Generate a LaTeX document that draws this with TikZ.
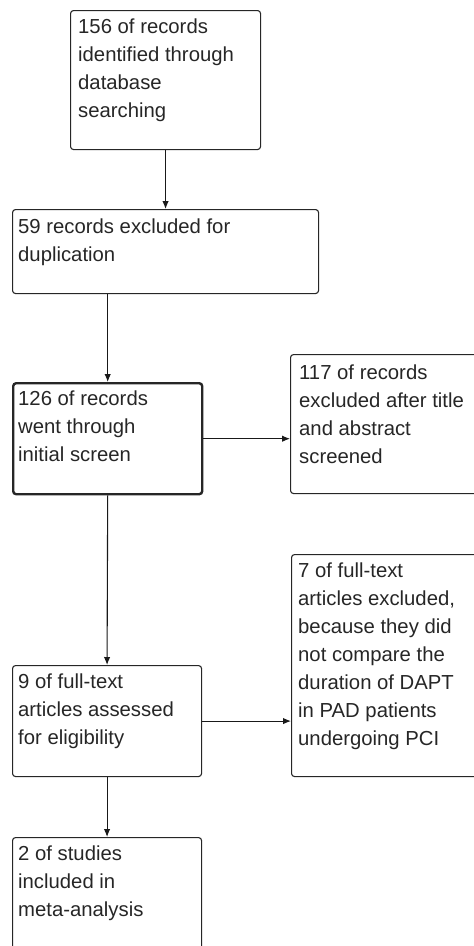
\documentclass[tikz,border=0pt]{standalone}
\usepackage{fontspec}
\setmainfont{Liberation Sans}
\usetikzlibrary{arrows.meta}
\tikzset{
  box/.style={draw=black!85, line width=1.1pt, rounded corners=3pt, inner sep=0pt, anchor=north west},
  thickbox/.style={box, line width=2.4pt},
  txt/.style={anchor=north west, inner sep=0pt, align=left, text=black!85,
    font=\fontsize{20.3pt}{28pt}\selectfont, execute at begin node=\strut},
  arr/.style={draw=black!90, line width=1.1pt, -{Latex[length=8pt,width=6.5pt]}}
}
\begin{document}
\begin{tikzpicture}[x=1pt,y=-1pt]
\clip (0,0) rectangle (474,946);
% boxes
\node[box, minimum width=190pt, minimum height=139pt] (b1) at (70,10) {};
\node[box, minimum width=306pt, minimum height=84pt] (b2) at (12,209) {};
\node[thickbox, minimum width=189pt, minimum height=111pt] (b3) at (12,382) {};
\node[box, minimum width=200pt, minimum height=139pt] (b4) at (290,354) {};
\node[box, minimum width=189pt, minimum height=111pt] (b5) at (12,665) {};
\node[box, minimum width=200pt, minimum height=222pt] (b6) at (291,554) {};
\node[box, minimum width=189pt, minimum height=130pt] (b7) at (12,837) {};
% texts (first baseline about 28pt below the box top; strut height 19.6pt)
\node[txt] (t1) at ([xshift=8pt,yshift=-8.4pt]b1.north west) {156 of records\\identified through\\database\\searching};
\node[txt] (t2) at ([xshift=6pt,yshift=-9.4pt]b2.north west) {59 records excluded for\\duplication};
\node[txt] (t3) at ([xshift=6pt,yshift=-8.4pt]b3.north west) {126 of records\\went through\\initial screen};
\node[txt] (t4) at ([xshift=9pt,yshift=-11pt]b4.north west) {117 of records\\excluded after title\\and abstract\\screened};
\node[txt] (t5) at ([xshift=6pt,yshift=-8.4pt]b5.north west) {9 of full-text\\articles assessed\\for eligibility};
\node[txt] (t6) at ([xshift=7pt,yshift=-8.4pt]b6.north west) {7 of full-text\\articles excluded,\\because they did\\not compare the\\duration of DAPT\\in PAD patients\\undergoing PCI};
\node[txt] (t7) at ([xshift=6pt,yshift=-8.4pt]b7.north west) {2 of studies\\included in\\meta-analysis};
% connectors
\draw[arr] (b1.south) -- (b2.north);
\draw[arr] (b3.north |- b2.south) -- (b3.north);
\draw[arr] (b3.east) -- (b3.east -| b4.west);
\draw[arr] (b3.south) -- (b5.north);
\draw[arr] (b5.east) -- (b5.east -| b6.west);
\draw[arr] (b5.south) -- (b7.north);
\end{tikzpicture}
\end{document}
